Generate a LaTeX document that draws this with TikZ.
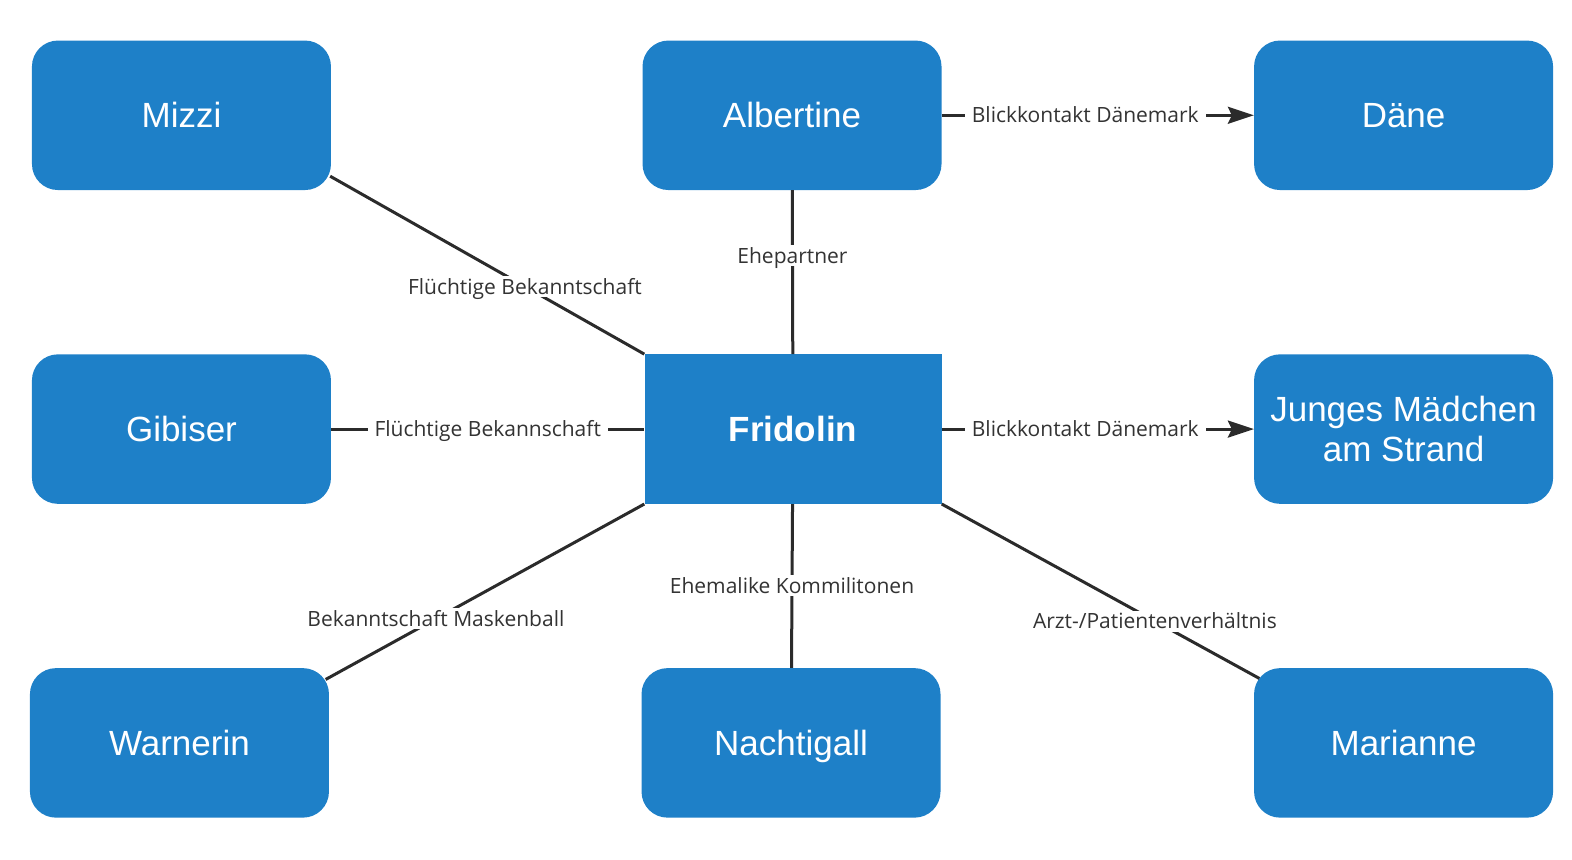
\documentclass[tikz,border=0pt]{standalone}
\usepackage{fontspec}
\setmainfont{Liberation Sans}
\newfontfamily\lblfont{Open Sans}
\usetikzlibrary{arrows.meta,calc}
\definecolor{boxblue}{RGB}{30,128,200}
\definecolor{linegray}{RGB}{43,43,43}
\definecolor{lbltext}{RGB}{51,51,51}
\tikzset{
  personbase/.style={fill=boxblue, draw=none, rounded corners=26pt, minimum width=299pt, minimum height=149.5pt,
    text=white, align=center, font=\fontsize{35}{40}\selectfont, inner sep=0pt},
  person/.style={personbase, text height=25pt, text depth=0pt},
  hub/.style={fill=boxblue, draw=none, minimum width=297pt, minimum height=149.5pt,
    text=white, font=\fontsize{35}{40}\selectfont\bfseries, inner sep=0pt, text height=25pt, text depth=0pt},
  conn/.style={draw=linegray, line width=3pt},
  arr/.style={conn, -{Stealth[length=26pt,width=17pt,inset=4pt]}},
  lbl/.style={fill=white, text=lbltext, font=\lblfont\fontsize{21}{24}\selectfont, inner xsep=7pt, inner ysep=3pt,
    text height=15pt, text depth=0pt}
}
\begin{document}
\begin{tikzpicture}[x=1.0025pt,y=-1.0025pt]
\useasboundingbox (0,0) rectangle (1568,857);
\node[person] (mizzi) at (181,115) {Mizzi};
\node[person] (albertine) at (790,115) {Albertine};
\node[person] (daene) at (1400,115) {Däne};
\node[person] (gibiser) at (181,428) {Gibiser};
\node[hub] (fridolin) at (791,428) {Fridolin};
\node[personbase] (junges) at (1400,428) {Junges Mädchen\\am Strand};
\node[person] (warnerin) at (179,741) {Warnerin};
\node[person] (nachtigall) at (789,741) {Nachtigall};
\node[person] (marianne) at (1400,741) {Marianne};

\draw[conn] ($(mizzi.south east)+(-1,-14)$) -- node[lbl, pos=0.62] {Flüchtige Bekanntschaft} (fridolin.north west);
\draw[conn] (albertine) -- node[lbl, pos=0.40] {Ehepartner} (fridolin);
\draw[conn] (gibiser) -- node[lbl] {Flüchtige Bekannschaft} (fridolin);
\draw[conn] ($(warnerin.north east)+(-3.5,11.5)$) -- node[lbl, pos=0.346] {Bekanntschaft Maskenball} (fridolin.south west);
\draw[conn] (fridolin) -- node[lbl] {Ehemalike Kommilitonen} (nachtigall);
\draw[conn] (fridolin.south east) -- node[lbl, pos=0.671] {Arzt-/Patientenverhältnis} ($(marianne.north west)+(5.5,10.5)$);
\draw[arr] (albertine) -- node[lbl, pos=0.46] {Blickkontakt Dänemark} (daene);
\draw[arr] (fridolin) -- node[lbl, pos=0.46] {Blickkontakt Dänemark} (junges);
\end{tikzpicture}
\end{document}
